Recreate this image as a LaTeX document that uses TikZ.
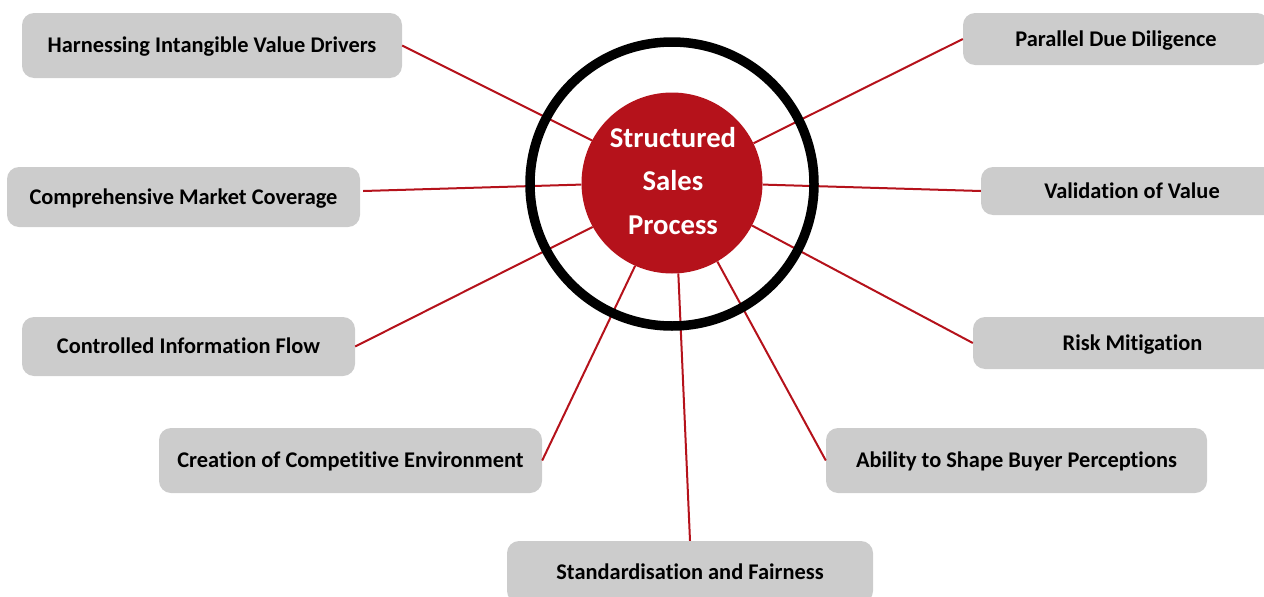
\documentclass[tikz,border=0pt]{standalone}
\usepackage{fontspec}
\setmainfont{Carlito}[Ligatures=NoCommon]
\usetikzlibrary{calc}
\definecolor{hubred}{RGB}{181,18,27}
\definecolor{boxgray}{RGB}{204,204,204}
\begin{document}
\begin{tikzpicture}[x=1pt,y=-1pt,
  topic/.style={fill=boxgray, rounded corners=12pt, inner sep=0pt,
    text height=17.4pt, text depth=3pt,
    font=\bfseries\fontsize{22.4}{26}\selectfont, text=black},
  spoke/.style={draw=hubred, line width=2pt},
  hubnode/.style={circle, fill=hubred, minimum size=181pt, inner sep=0pt,
    text=white, align=center, font=\bfseries\fontsize{28.7}{43.5}\selectfont},
  ring/.style={draw=black, line width=9.5pt}]
\clip (0,0) rectangle (1264,597);

% topic boxes, left column
\node[topic, minimum width=380pt, minimum height=65pt] (b1) at (212,45.5) {Harnessing Intangible Value Drivers};
\node[topic, minimum width=353pt, minimum height=60pt] (b2) at (183.5,197) {Comprehensive Market Coverage};
\node[topic, minimum width=333pt, minimum height=59pt] (b3) at (188.5,346.5) {Controlled Information Flow};
\node[topic, minimum width=383pt, minimum height=65pt] (b4) at (350.5,460.5) {Creation of Competitive Environment};
% bottom
\node[topic, minimum width=366pt, minimum height=62pt] (b5) at (690,572) {Standardisation and Fairness};
% right column
\node[topic, minimum width=381pt, minimum height=65pt] (b6) at (1016.5,460.5) {Ability to Shape Buyer Perceptions};
\node[topic, minimum width=319pt, minimum height=52pt] (b7) at (1132.5,343) {Risk Mitigation};
\node[topic, minimum width=302pt, minimum height=48pt] (b8) at (1132,191) {Validation of Value};
\node[topic, minimum width=306pt, minimum height=52pt] (b9) at (1116,39) {Parallel Due Diligence};

% central hub
\node[hubnode] (hub) at (672,183) {};
\node[text=white, align=center, inner sep=0pt,
  font=\bfseries\fontsize{28.7}{43.5}\selectfont] (hubtext) at (673,181) {Structured\\Sales\\Process};

% spokes from the hub to each topic
\draw[spoke] (hub.152) -- (b1.east);
\draw[spoke] (hub.181) -- ($(b2.east)+(3,-6)$);
\draw[spoke] (hub.209) -- (b3.east);
\draw[spoke] (hub.246) -- (b4.east);
\draw[spoke] (hub.274) -- (b5.north);
\draw[spoke] (hub.-60.6) -- (b6.west);
\draw[spoke] (hub.-28.3) -- (b7.west);
\draw[spoke] (hub.-1.9) -- (b8.west);
\draw[spoke] (hub.26) -- (b9.west);

% outer ring drawn over the spokes
\draw[ring] (672,184) circle[radius=142];
\end{tikzpicture}
\end{document}
